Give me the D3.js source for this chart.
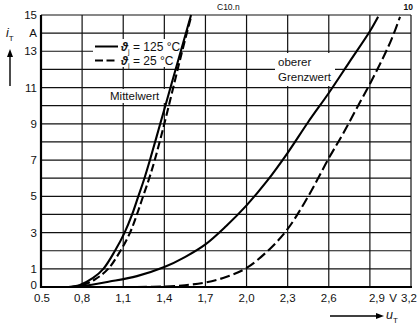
<!DOCTYPE html>
<html>
<head>
<meta charset="utf-8">
<script src="https://cdn.jsdelivr.net/npm/d3@7"></script>
<style>
  html, body { margin: 0; padding: 0; background: #fff; }
  svg { display: block; }
  text { font-family: "Liberation Sans Narrow", "Liberation Sans", Arial, sans-serif; fill: #111; }
</style>
</head>
<body>
<svg id="chart" width="419" height="328"></svg>
<script>
// Voltage grid (V) and current grid (A)
const xTicks = [0.5, 0.8, 1.1, 1.4, 1.7, 2.0, 2.3, 2.6, 2.9, 3.2];
const xTickLabels = ["0.5", "0,8", "1,1", "1,4", "1,7", "2,0", "2,3", "2,6", "2,9", "3,2"];
const yGrid = [0, 1, 2, 3, 4, 5, 6, 7, 8, 9, 10, 11, 12, 13, 14, 15];
const yTicks = [0, 1, 3, 5, 7, 9, 11, 13, 15];
const yTickLabels = ["0", "1", "3", "5", "7", "9", "11", "13", "15"];

// Forward characteristics: [u_T in V, i_T in A]
const mittelwert125 = [[0.70,0],[0.78,0.1],[0.88,0.5],[0.955,1],[1.04,2],[1.11,3],[1.165,4],[1.21,5],[1.255,6],[1.295,7],[1.37,9],[1.445,11],[1.52,13],[1.595,15]];
const mittelwert25  = [[0.72,0],[0.80,0.1],[0.89,0.4],[0.99,1],[1.08,2],[1.15,3],[1.20,4],[1.245,5],[1.29,6],[1.33,7],[1.40,9],[1.465,11],[1.53,13],[1.595,14.9]];
const grenzwert125  = [[0.70,0],[0.80,0.05],[1.0,0.3],[1.2,0.6],[1.4,1.1],[1.55,1.65],[1.7,2.35],[1.85,3.35],[2.0,4.5],[2.15,5.85],[2.3,7.4],[2.45,9.1],[2.6,10.7],[2.75,12.4],[2.9,14.1],[2.96,14.9]];
const grenzwert25   = [[1.2,0],[1.4,0.03],[1.55,0.1],[1.7,0.25],[1.85,0.55],[2.0,1.05],[2.17,2.1],[2.3,3.2],[2.45,5.0],[2.6,7.1],[2.7,8.4],[2.8,9.8],[2.9,11.2],[3.0,12.7],[3.06,13.7],[3.12,14.9]];

const svg = d3.select("#chart");
const x = d3.scaleLinear().domain([0.5, 3.2]).range([41, 411]);
const y = d3.scaleLinear().domain([0, 15]).range([287, 15]);

// Grid
const grid = svg.append("g").attr("stroke", "#111").attr("stroke-width", 1.2);
grid.selectAll("line.h").data(yGrid).join("line")
  .attr("x1", x(0.5)).attr("x2", x(3.2))
  .attr("y1", d => y(d)).attr("y2", d => y(d));
grid.selectAll("line.v").data(xTicks).join("line")
  .attr("x1", d => x(d)).attr("x2", d => x(d))
  .attr("y1", y(0)).attr("y2", y(15));

// Heavier axes on left and bottom
svg.append("line").attr("x1", x(0.5)).attr("x2", x(0.5)).attr("y1", y(15)).attr("y2", y(0) + 1)
  .attr("stroke", "#000").attr("stroke-width", 2.2);
svg.append("line").attr("x1", x(0.5) - 1).attr("x2", x(3.2) + 1).attr("y1", y(0)).attr("y2", y(0))
  .attr("stroke", "#000").attr("stroke-width", 2.2);

// Label backgrounds (white patches over grid)
const bg = svg.append("g").attr("fill", "#fff");
bg.append("rect").attr("x", 93).attr("y", 39).attr("width", 87).attr("height", 28);
bg.append("rect").attr("x", 108).attr("y", 89).attr("width", 58).attr("height", 14);
bg.append("rect").attr("x", 275).attr("y", 53).attr("width", 60).attr("height", 33);

// Curves
const line = d3.line().x(d => x(d[0])).y(d => y(d[1])).curve(d3.curveCatmullRom.alpha(0.5));
const curves = [
  { data: mittelwert125, dash: null },
  { data: mittelwert25, dash: "8,3.5" },
  { data: grenzwert125, dash: null },
  { data: grenzwert25, dash: "10,4" }
];
svg.append("g").selectAll("path").data(curves).join("path")
  .attr("d", d => line(d.data))
  .attr("fill", "none").attr("stroke", "#000").attr("stroke-width", 2.1)
  .attr("stroke-dasharray", d => d.dash);

// Tick labels
svg.append("g").selectAll("text").data(xTicks).join("text")
  .attr("x", (d, i) => x(d) + (i === 0 ? 1 : i === 8 ? 7 : i === 9 ? -2 : 0))
  .attr("y", 302).attr("text-anchor", "middle").attr("font-size", 11.5)
  .text((d, i) => xTickLabels[i]);
svg.append("text").attr("x", 393).attr("y", 302).attr("text-anchor", "middle").attr("font-size", 11.5).text("V");

svg.append("g").selectAll("text").data(yTicks).join("text")
  .attr("x", 37).attr("y", d => y(d) + (d === 0 ? 2 : 4)).attr("text-anchor", "end").attr("font-size", 11.5)
  .text((d, i) => yTickLabels[i]);
svg.append("text").attr("x", 37).attr("y", y(14) + 4).attr("text-anchor", "end").attr("font-size", 11.5).text("A");

// Axis titles with arrows
const iT = svg.append("text").attr("x", 6).attr("y", 37).attr("font-size", 12.5).attr("font-style", "italic");
iT.append("tspan").text("i");
iT.append("tspan").attr("font-size", 8).attr("font-style", "normal").attr("dy", 4).text("T");
svg.append("line").attr("x1", 10).attr("x2", 10).attr("y1", 86).attr("y2", 55).attr("stroke", "#000").attr("stroke-width", 1.4);
svg.append("path").attr("d", "M10,49 L7,57 L13,57 Z").attr("fill", "#000");

const uT = svg.append("text").attr("x", 386).attr("y", 319).attr("font-size", 12.5).attr("font-style", "italic");
uT.append("tspan").text("u");
uT.append("tspan").attr("font-size", 8).attr("font-style", "normal").attr("dy", 4).text("T");
svg.append("line").attr("x1", 330).attr("x2", 377).attr("y1", 316).attr("y2", 316).attr("stroke", "#000").attr("stroke-width", 1.4);
svg.append("path").attr("d", "M384,316 L376,313 L376,319 Z").attr("fill", "#000");

// Legend
const legend = svg.append("g");
legend.append("line").attr("x1", 95).attr("x2", 118).attr("y1", 46.5).attr("y2", 46.5).attr("stroke", "#000").attr("stroke-width", 2);
legend.append("line").attr("x1", 95).attr("x2", 118).attr("y1", 60.5).attr("y2", 60.5).attr("stroke", "#000").attr("stroke-width", 2).attr("stroke-dasharray", "8,3.5");
const l1 = legend.append("text").attr("x", 121).attr("y", 51).attr("font-size", 12);
l1.append("tspan").attr("font-weight", "bold").attr("font-style", "italic").text("ϑ");
l1.append("tspan").attr("font-size", 7).attr("dy", 3).text("j");
l1.append("tspan").attr("dy", -3).text(" = 125 °C");
const l2 = legend.append("text").attr("x", 121).attr("y", 65).attr("font-size", 12);
l2.append("tspan").attr("font-weight", "bold").attr("font-style", "italic").text("ϑ");
l2.append("tspan").attr("font-size", 7).attr("dy", 3).text("j");
l2.append("tspan").attr("dy", -3).text(" = 25 °C");

// Curve annotations
svg.append("text").attr("x", 110).attr("y", 100).attr("font-size", 11.5).text("Mittelwert");
svg.append("text").attr("x", 278).attr("y", 66).attr("font-size", 11.5).text("oberer");
svg.append("text").attr("x", 278).attr("y", 81).attr("font-size", 11.5).text("Grenzwert");

// Sheet marks
svg.append("text").attr("x", 217).attr("y", 10).attr("font-size", 8.5).text("C10.n");
svg.append("text").attr("x", 413).attr("y", 10).attr("text-anchor", "end").attr("font-size", 8.5).attr("font-weight", "bold").text("10");
</script>
</body>
</html>
